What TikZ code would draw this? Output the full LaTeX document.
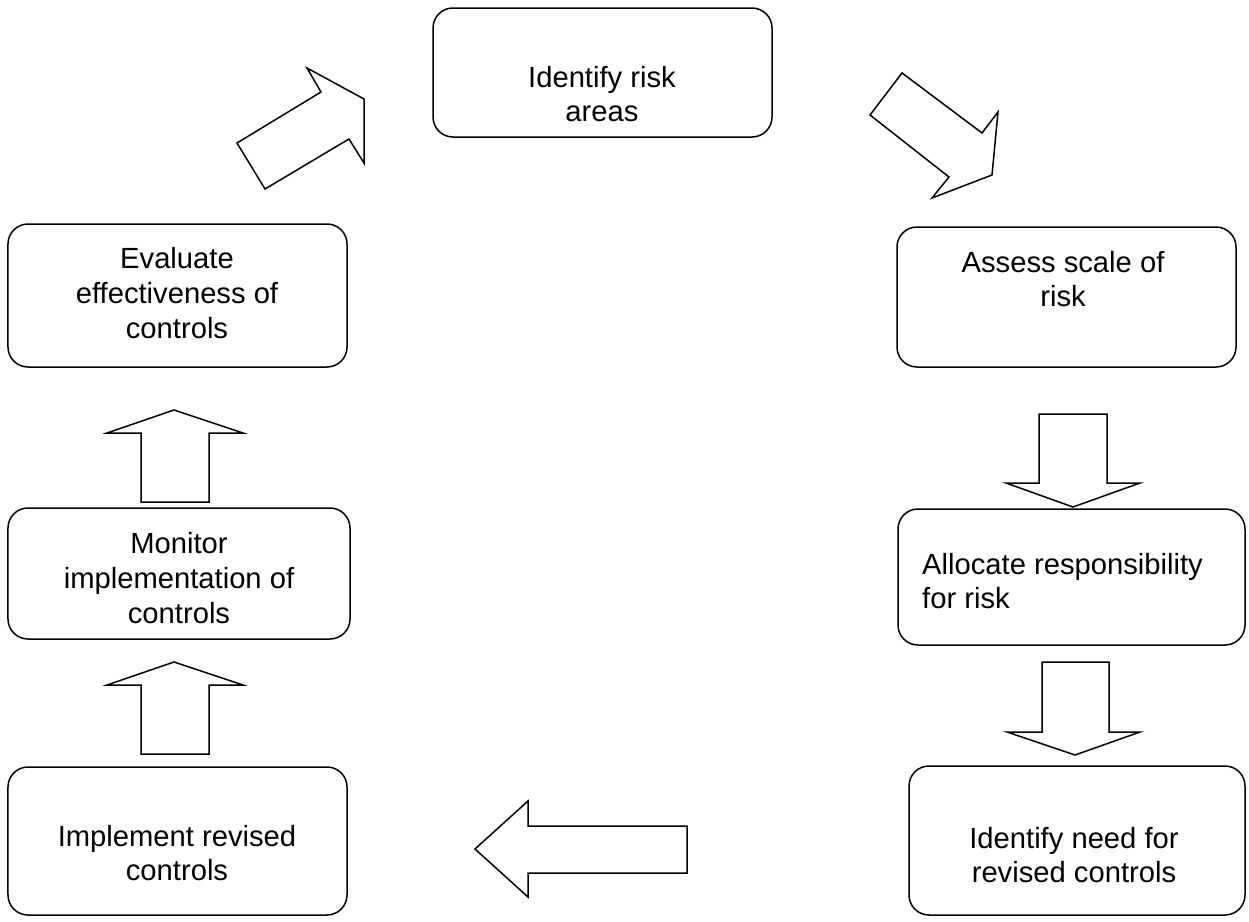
\documentclass[tikz,border=0pt]{standalone}
\usepackage{fontspec}
\setmainfont{Liberation Sans}
\begin{document}
\begin{tikzpicture}[x=1bp,y=-1bp,
  box/.style={draw, line width=1.5bp, rounded corners=20bp, inner sep=0pt},
  label/.style={align=center, font=\fontsize{29.3}{35}\selectfont, inner sep=0pt},
  blockarrow/.style={draw, line width=1.5bp, fill=white, line join=miter}]
\useasboundingbox (0,0) rectangle (1249,922);
% boxes
\node[box, minimum width=339bp, minimum height=129bp] (b1) at (602.5,72.5) {};
\node[box, minimum width=339bp, minimum height=140bp] (b2) at (1066.5,297) {};
\node[box, minimum width=347bp, minimum height=136bp] (b3) at (1071.5,577) {};
\node[box, minimum width=336bp, minimum height=149bp] (b4) at (1077,840.5) {};
\node[box, minimum width=339bp, minimum height=148bp] (b5) at (177.5,841) {};
\node[box, minimum width=342bp, minimum height=131bp] (b6) at (179,573.5) {};
\node[box, minimum width=339bp, minimum height=143bp] (b7) at (177.5,295.5) {};
% texts
\node[label] (t1) at (602,94) {Identify risk\\areas};
\node[label] (t2) at (1063,279) {Assess scale of\\risk};
\node[label, align=left, anchor=west] (t3) at (922,581) {Allocate responsibility\\for risk};
\node[label] (t4) at (1074,855) {Identify need for\\revised controls};
\node[label] (t5) at (177,853) {Implement revised\\controls};
\node[label] (t6) at (179,578) {Monitor\\implementation of\\controls};
\node[label] (t7) at (177,293) {Evaluate\\effectiveness of\\controls};
% block arrows
\draw[blockarrow] (237,143) -- (321,92) -- (307,68) -- (364,99) -- (364,163) -- (349,139) -- (265,189) -- cycle;
\draw[blockarrow] (902,73) -- (982,133) -- (998,112) -- (992,175) -- (932,198) -- (949,177) -- (870,115) -- cycle;
\draw[blockarrow] (1039,414) -- (1107,414) -- (1107,483) -- (1140,483) -- (1073,507) -- (1006,483) -- (1039,483) -- cycle;
\draw[blockarrow] (1042,662) -- (1109,662) -- (1109,732) -- (1140,732) -- (1075,755) -- (1007,732) -- (1042,732) -- cycle;
\draw[blockarrow] (687,826) -- (687,873) -- (528,873) -- (528,897) -- (475,849) -- (528,801) -- (528,826) -- cycle;
\draw[blockarrow] (141,754) -- (141,685) -- (107,685) -- (174,662) -- (243,685) -- (209,685) -- (209,754) -- cycle;
\draw[blockarrow] (141,502) -- (141,433) -- (107,433) -- (174,410) -- (243,433) -- (209,433) -- (209,502) -- cycle;
\end{tikzpicture}
\end{document}
